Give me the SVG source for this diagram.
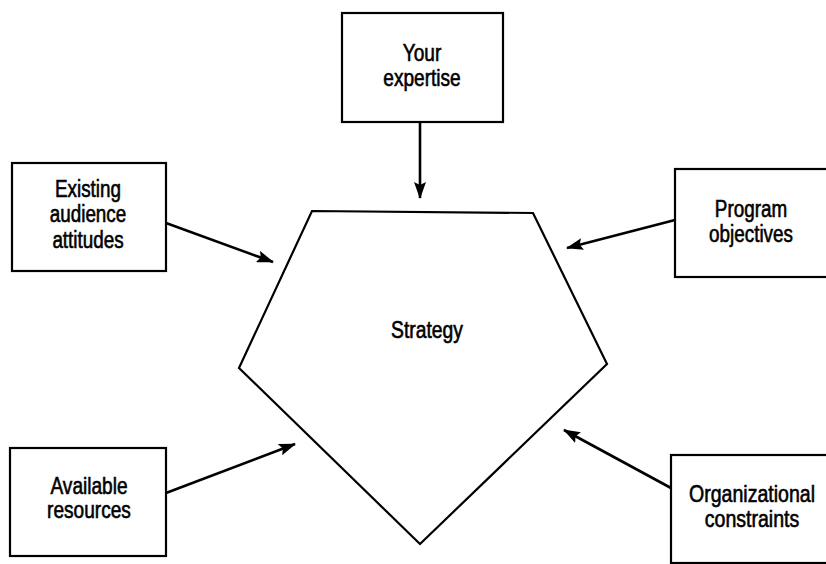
<svg xmlns="http://www.w3.org/2000/svg" width="826" height="564" viewBox="0 0 826 564">
<defs>
<style>
.box{fill:#fff;stroke:#000;stroke-width:2.2}
.lbl{font-family:"Liberation Sans",Arial,sans-serif;font-size:23px;fill:#000;stroke:#000;stroke-width:0.6;text-anchor:middle}
.conn{stroke:#000;stroke-width:2.6;fill:none;marker-end:url(#ah)}
</style>
<marker id="ah" markerUnits="userSpaceOnUse" markerWidth="18" markerHeight="12" refX="16" refY="6" orient="auto">
<path d="M0,0 L17,6 L0,12 L3,6 Z" fill="#000"/>
</marker>
</defs>
<rect width="826" height="564" fill="#fff"/>
<g id="strategy">
<polygon points="312,211 533,213 607,364 420,544 239,368" fill="#fff" stroke="#000" stroke-width="2.2" stroke-linejoin="miter"/>
<text class="lbl" transform="translate(427,338) scale(0.84 1)">Strategy</text>
</g>
<g id="expertise">
<rect class="box" x="342" y="13" width="161" height="109"/>
<text class="lbl" transform="translate(422,61) scale(0.83 1)"><tspan x="0" y="0">Your</tspan><tspan x="0" y="25">expertise</tspan></text>
</g>
<g id="audience">
<rect class="box" x="12" y="163" width="154" height="108"/>
<text class="lbl" transform="translate(88,197) scale(0.82 1)"><tspan x="0" y="0">Existing</tspan><tspan x="0" y="25.5">audience</tspan><tspan x="0" y="51">attitudes</tspan></text>
</g>
<g id="objectives">
<rect class="box" x="675" y="169" width="160" height="108"/>
<text class="lbl" transform="translate(751,217) scale(0.82 1)"><tspan x="0" y="0">Program</tspan><tspan x="0" y="25">objectives</tspan></text>
</g>
<g id="resources">
<rect class="box" x="10" y="448" width="156" height="108"/>
<text class="lbl" transform="translate(89,494) scale(0.83 1)"><tspan x="0" y="0">Available</tspan><tspan x="0" y="24.5">resources</tspan></text>
</g>
<g id="constraints">
<rect class="box" x="671" y="455" width="165" height="108"/>
<text class="lbl" transform="translate(752,502) scale(0.85 1)"><tspan x="0" y="0">Organizational</tspan><tspan x="0" y="25">constraints</tspan></text>
</g>
<g id="connectors">
<line class="conn" x1="420" y1="122" x2="420" y2="198"/>
<line class="conn" x1="166" y1="223" x2="273" y2="262"/>
<line class="conn" x1="675" y1="220" x2="567" y2="248"/>
<line class="conn" x1="166" y1="493" x2="295" y2="444"/>
<line class="conn" x1="671" y1="488" x2="564" y2="430"/>
</g>
</svg>
